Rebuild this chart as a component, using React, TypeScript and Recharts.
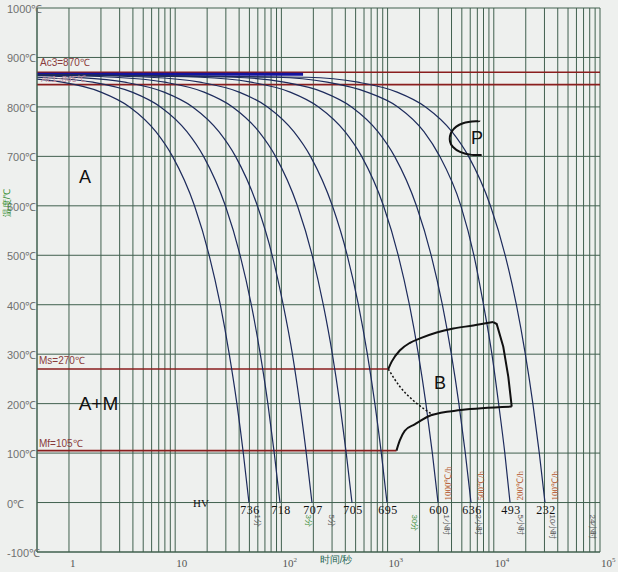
import React from 'react';
import {
  ComposedChart,
  Line,
  XAxis,
  YAxis,
  CartesianGrid,
  ReferenceLine,
  ReferenceDot,
} from 'recharts';

// time axis (s, log) grid lines and temperature ticks
const gridTimes = [
  1, 2, 3, 4, 5, 6, 7, 8, 9,
  10, 20, 30, 40, 50, 60, 70, 80, 90,
  100, 200, 300, 400, 500, 600, 700, 800, 900,
  1000, 2000, 3000, 4000, 5000, 6000, 7000, 8000, 9000,
  10000, 20000, 30000, 40000, 50000, 60000, 70000, 80000, 90000,
  100000,
];
const decadeTicks = [1, 10, 100, 1000, 10000, 100000];
const decadeSup = ['', '', '2', '3', '4', '5'];
const tempTicks = [-100, 0, 100, 200, 300, 400, 500, 600, 700, 800, 900, 1000];

// cooling curves [time s, temperature ℃]
const curve736 = [[0.5, 856], [0.86, 850], [2.0, 830], [3.72, 800], [6.58, 750], [9.44, 700], [15.2, 600], [20.9, 500], [26.6, 400], [32.3, 300], [38.1, 200], [43.8, 100], [49.5, 0]];
const curve718 = [[0.5, 860], [1.68, 850], [3.93, 830], [7.28, 800], [12.9, 750], [18.5, 700], [29.7, 600], [40.9, 500], [52.1, 400], [63.3, 300], [74.6, 200], [85.7, 100], [97, 0]];
const curve707 = [[0.5, 863], [1.12, 860], [3.36, 850], [7.86, 830], [14.6, 800], [25.8, 750], [37, 700], [59.4, 600], [81.9, 500], [104, 400], [127, 300], [149, 200], [171.5, 100], [194, 0]];
const curve705 = [[0.5, 864], [2.67, 860], [8, 850], [18.7, 830], [34.7, 800], [61.4, 750], [88.1, 700], [141.6, 600], [195, 500], [248, 400], [302, 300], [355, 200], [408, 100], [462, 0]];
const curve695 = [[0.5, 865], [5.7, 860], [17.1, 850], [40, 830], [74.1, 800], [131, 750], [188, 700], [302, 600], [417, 500], [531, 400], [645, 300], [759, 200], [873, 100], [987, 0]];
const curve600 = [[0.5, 865], [17.3, 860], [51.8, 850], [121, 830], [224, 800], [397, 750], [570, 700], [915, 600], [1260, 500], [1605, 400], [1949, 300], [2295, 200], [2639, 100], [2985, 0]];
const curve636 = [[0.5, 865], [35.3, 860], [106, 850], [247, 830], [458, 800], [811, 750], [1164, 700], [1869, 600], [2574, 500], [3279, 400], [3983, 300], [4691, 200], [5392, 100], [6100, 0]];
const curve493 = [[0.5, 865], [90, 860], [270, 850], [640, 830], [1250, 800], [2200, 750], [3100, 700], [4900, 600], [6500, 500], [8000, 400], [9600, 300], [11100, 200], [12700, 100], [14220, 0]];
const curve232 = [[0.5, 865], [175, 860], [526, 850], [1229, 830], [2279, 800], [4035, 750], [5789, 700], [9296, 600], [12803, 500], [16311, 400], [19812, 300], [23331, 200], [26821, 100], [30340, 0]];

const curves = [curve736, curve718, curve707, curve705, curve695, curve600, curve636, curve493, curve232];
const hvValues = [736, 718, 707, 705, 695, 600, 636, 493, 232];
const rateLabels = ['1000℃/h', '500℃/h', '200℃/h', '100℃/h']; // last four curves

// bainite region and pearlite nose
const bainiteStart = [[1015, 270], [1093, 285], [1309, 308], [1625, 323], [2019, 332], [2899, 344], [4157, 352], [6412, 358], [9890, 365]];
const bainiteRight = [[9890, 365], [10650, 361], [12280, 315], [13700, 254], [14750, 194]];
const bainiteEnd = [[1213, 105], [1300, 125], [1450, 145], [1800, 158], [2600, 177], [4900, 187], [14750, 194]];
const bainiteDotted = [[1015, 270], [1309, 234], [1734, 207], [2693, 177]];
const pearliteArc = [[7300, 772], [6902, 771], [5129, 767], [4015, 750], [3870, 730], [4130, 719], [4806, 709], [6194, 703], [7691, 703]];

// time marks under the 0℃ line
const timeMarks = [60, 180, 300, 1800, 3600, 7200, 18000, 36000, 86400];
const timeMarkLabels = ['1分', '3分', '5分', '30分', '1小时', '2小时', '5小时', '10小时', '24小时'];

const Ac3 = 870;
const Ac1 = 845;
const Ms = 270;
const Mf = 105;

const toPts = (a: number[][]) => a.map(([t, T]) => ({ t, T }));

const GRID = '#41604f';
const CURVE = '#1d2b5c';
const RED = '#8a1e1e';
const SANS = '"Liberation Sans", Arial, sans-serif';
const SERIF = '"Liberation Serif", "Times New Roman", serif';

type MarkOpts = {
  dx?: number;
  dy?: number;
  size?: number;
  fill?: string;
  family?: string;
  anchor?: 'start' | 'middle' | 'end';
  rotate?: number;
  spacing?: number;
};

const mark = (s: string, o: MarkOpts) => (p: any) => {
  const x = p.cx + (o.dx ?? 0);
  const y = p.cy + (o.dy ?? 0);
  return (
    <text
      x={x}
      y={y}
      fontSize={o.size ?? 10}
      fill={o.fill ?? '#111'}
      fontFamily={o.family ?? SANS}
      textAnchor={o.anchor ?? 'middle'}
      letterSpacing={o.spacing}
      transform={o.rotate ? `rotate(${o.rotate} ${x} ${y})` : undefined}
    >
      {s}
    </text>
  );
};

const XTick = (p: any) => {
  const v = p.payload.value;
  const i = decadeTicks.indexOf(v);
  if (i < 0) return <g />;
  return (
    <text x={p.x + 1} y={567} fontSize={11} fill="#555" fontFamily={SERIF}>
      {v === 1 ? '1' : '10'}
      {decadeSup[i] && (
        <tspan fontSize={7} dy={-5}>
          {decadeSup[i]}
        </tspan>
      )}
    </text>
  );
};

const YTick = (p: any) => (
  <text x={7} y={p.y + 5} fontSize={11} fill="#707070" fontFamily={SANS}>
    {`${p.payload.value}℃`}
  </text>
);

export default function App() {
  return (
    <div style={{ position: 'absolute', left: 0, top: 0, width: 618, height: 572, background: '#eef0ee' }}>
      <ComposedChart width={618} height={572} margin={{ top: 8, right: 18, left: 0, bottom: 0 }}>
        <CartesianGrid stroke={GRID} strokeWidth={1} />
        <XAxis
          dataKey="t"
          type="number"
          scale="log"
          domain={[0.5, 100000]}
          ticks={gridTimes}
          interval={0}
          tick={XTick}
          tickLine={false}
          axisLine={{ stroke: GRID }}
          height={20}
          allowDataOverflow
        />
        <YAxis
          type="number"
          domain={[-100, 1000]}
          ticks={tempTicks}
          interval={0}
          tick={YTick}
          tickLine={false}
          axisLine={{ stroke: GRID }}
          width={37}
          allowDataOverflow
        />

        <ReferenceLine y={Ac3} stroke={RED} strokeWidth={1.6} ifOverflow="visible" />
        <ReferenceLine y={Ac1} stroke={RED} strokeWidth={1.6} ifOverflow="visible" />
        <ReferenceLine segment={[{ x: 0.5, y: Ms }, { x: 1015, y: Ms }]} stroke={RED} strokeWidth={1.6} ifOverflow="visible" />
        <ReferenceLine segment={[{ x: 0.5, y: Mf }, { x: 1213, y: Mf }]} stroke={RED} strokeWidth={1.6} ifOverflow="visible" />

        <ReferenceDot x={0.5} y={Ac1} r={1} ifOverflow="visible" shape={mark(`Ac1=${Ac1}℃`, { dx: 4, dy: -3, size: 9, fill: '#c98d9d', anchor: 'start' })} />
        <ReferenceLine segment={[{ x: 0.5, y: 866 }, { x: 160, y: 866 }]} stroke="#1414a0" strokeWidth={3} ifOverflow="visible" />

        {curves.map((c, i) => (
          <Line
            key={`c${i}`}
            data={toPts(c)}
            dataKey="T"
            type="monotone"
            stroke={CURVE}
            strokeWidth={1.2}
            dot={false}
            activeDot={false}
            isAnimationActive={false}
          />
        ))}

        <Line data={toPts(bainiteStart)} dataKey="T" type="monotone" stroke="#111" strokeWidth={2} dot={false} activeDot={false} isAnimationActive={false} />
        <Line data={toPts(bainiteRight)} dataKey="T" type="linear" stroke="#111" strokeWidth={2} dot={false} activeDot={false} isAnimationActive={false} />
        <Line data={toPts(bainiteEnd)} dataKey="T" type="monotone" stroke="#111" strokeWidth={2} dot={false} activeDot={false} isAnimationActive={false} />
        <Line data={toPts(bainiteDotted)} dataKey="T" type="monotone" stroke="#111" strokeWidth={1.5} strokeDasharray="2 2" dot={false} activeDot={false} isAnimationActive={false} />
        <Line data={toPts(pearliteArc)} dataKey="T" type="natural" stroke="#111" strokeWidth={2} dot={false} activeDot={false} isAnimationActive={false} />

        <ReferenceDot x={0.5} y={Ac3} r={1} ifOverflow="visible" shape={mark(`Ac3=${Ac3}℃`, { dx: 3, dy: -6, size: 10, fill: '#8a3b3b', anchor: 'start' })} />
        <ReferenceDot x={0.5} y={Ms} r={1} ifOverflow="visible" shape={mark(`Ms=${Ms}℃`, { dx: 2, dy: -5, size: 10, fill: '#8a3b3b', anchor: 'start' })} />
        <ReferenceDot x={0.5} y={Mf} r={1} ifOverflow="visible" shape={mark(`Mf=${Mf}℃`, { dx: 2, dy: -4, size: 10, fill: '#8a3b3b', anchor: 'start' })} />

        <ReferenceDot x={1.415} y={646} r={1} ifOverflow="visible" shape={mark('A', { size: 18 })} />
        <ReferenceDot x={1.896} y={187} r={1} ifOverflow="visible" shape={mark('A+M', { size: 19 })} />
        <ReferenceDot x={3113} y={229} r={1} ifOverflow="visible" shape={mark('B', { size: 18 })} />
        <ReferenceDot x={6950} y={725} r={1} ifOverflow="visible" shape={mark('P', { size: 18 })} />
        <ReferenceDot x={17.5} y={0} r={1} ifOverflow="visible" shape={mark('HV', { dy: 4, size: 11, family: SERIF })} />

        {curves.map((c, i) => (
          <ReferenceDot
            key={`hv${i}`}
            x={c[c.length - 1][0]}
            y={0}
            r={1}
            ifOverflow="visible"
            shape={mark(String(hvValues[i]), { dx: 1, dy: 11, size: 12, family: SERIF, spacing: 0.5 })}
          />
        ))}

        {rateLabels.map((s, i) => {
          const c = curves[curves.length - rateLabels.length + i];
          return (
            <ReferenceDot
              key={`r${i}`}
              x={c[c.length - 1][0]}
              y={0}
              r={1}
              ifOverflow="visible"
              shape={mark(s, { dx: 13, dy: -2, size: 9, fill: '#b4562c', family: SERIF, anchor: 'start', rotate: -90 })}
            />
          );
        })}

        {timeMarks.map((t, i) => (
          <ReferenceDot
            key={`tm${i}`}
            x={t}
            y={0}
            r={1}
            ifOverflow="visible"
            shape={mark(timeMarkLabels[i], {
              dx: -3,
              dy: 12,
              size: 8,
              fill: i === 1 || i === 3 ? '#3b8f3b' : '#555',
              anchor: 'start',
              rotate: 90,
            })}
          />
        ))}

        <ReferenceDot x={327} y={-100} r={1} ifOverflow="visible" shape={mark('时间/秒', { dy: 11, size: 10, fill: '#2c6a58' })} />
      </ComposedChart>
      <svg width={20} height={80} style={{ position: 'absolute', left: 0, top: 163 }}>
        <text x={10} y={40} fontSize={9} fill="#2a8a2a" textAnchor="middle" transform="rotate(-90 10 40)" fontFamily={SANS}>
          温度/℃
        </text>
      </svg>
    </div>
  );
}
